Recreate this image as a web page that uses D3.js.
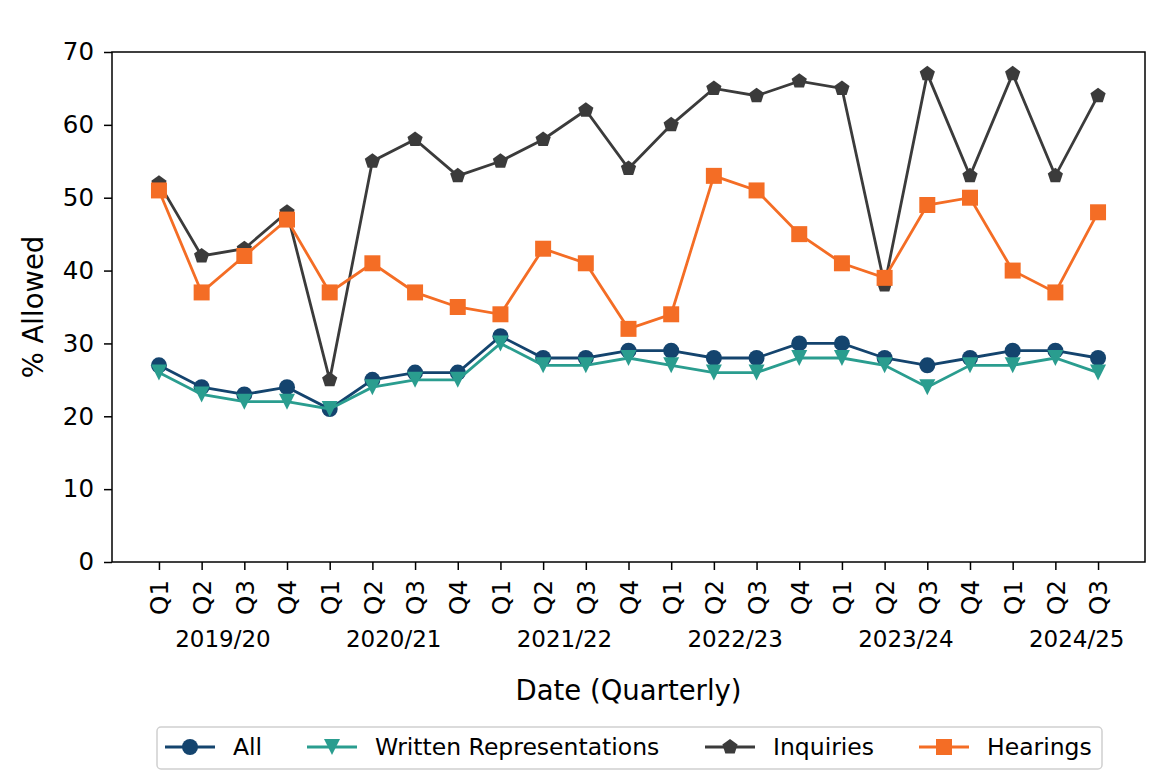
<!DOCTYPE html>
<html><head><meta charset="utf-8">
<script src="https://cdn.jsdelivr.net/npm/d3@7"></script>
<style>body{margin:0;background:#fff}svg{display:block;font-family:"DejaVu Sans",sans-serif}</style>
</head><body><svg id="c" width="1170" height="781"></svg>
<script>
const quarters = ["Q1","Q2","Q3","Q4","Q1","Q2","Q3","Q4","Q1","Q2","Q3","Q4","Q1","Q2","Q3","Q4","Q1","Q2","Q3","Q4","Q1","Q2","Q3"];
const years = ["2019/20","2020/21","2021/22","2022/23","2023/24","2024/25"];
const allVals = [27,24,23,24,21,25,26,26,31,28,28,29,29,28,28,30,30,28,27,28,29,29,28];
const writtenVals = [26,23,22,22,21,24,25,25,30,27,27,28,27,26,26,28,28,27,24,27,27,28,26];
const inquiryVals = [52,42,43,48,25,55,58,53,55,58,62,54,60,65,64,66,65,38,67,53,67,53,64];
const hearingVals = [51,37,42,47,37,41,37,35,34,43,41,32,34,53,51,45,41,39,49,50,40,37,48];
const yTicks = [0,10,20,30,40,50,60,70];

const series = [
  {name:"All", values:allVals, color:"#14446e", marker:"circle"},
  {name:"Written Representations", values:writtenVals, color:"#2a9d8f", marker:"tri"},
  {name:"Inquiries", values:inquiryVals, color:"#3b3b3b", marker:"pent"},
  {name:"Hearings", values:hearingVals, color:"#f46d25", marker:"square"}
];

const svg = d3.select("#c");
const L=112, R=1145, T=52, B=562;
const n = quarters.length;
const x = d3.scaleLinear().domain([-1.1, n-1+1.1]).range([L,R]);
const y = d3.scaleLinear().domain([0,70]).range([B,T]);
const TICK_FS = 24.5, YEAR_FS = 23, LAB_FS = 27.5, LEG_FS = 23.5;

function markerPath(type, s){
  if(type==="circle"){ return d3.symbol(d3.symbolCircle, Math.PI*s*s)(); }
  if(type==="square"){ return `M${-s},${-s}H${s}V${s}H${-s}Z`; }
  if(type==="tri"){ return `M${-s},${-s}L${s},${-s}L0,${s}Z`; }
  if(type==="pent"){
    let p=[];
    for(let i=0;i<5;i++){const a=-Math.PI/2+i*2*Math.PI/5; p.push([s*Math.cos(a), s*Math.sin(a)]);}
    return "M"+p.map(q=>q.join(",")).join("L")+"Z";
  }
}
const MS = 8;

// axes
const yAxis = d3.axisLeft(y).tickValues(yTicks).tickSize(8).tickPadding(10);
const gy = svg.append("g").attr("transform",`translate(${L},0)`).call(yAxis);
gy.select(".domain").remove();
gy.selectAll("text").attr("font-size",TICK_FS).attr("font-family","DejaVu Sans").attr("fill","#000");
gy.selectAll("line").attr("stroke","#000").attr("stroke-width",1.5);

const xAxis = d3.axisBottom(x).tickValues(d3.range(n)).tickFormat(i=>quarters[i]).tickSize(8).tickPadding(6);
const gx = svg.append("g").attr("transform",`translate(0,${B})`).call(xAxis);
gx.select(".domain").remove();
gx.selectAll("line").attr("stroke","#000").attr("stroke-width",1.5);
gx.selectAll("text").attr("font-size",TICK_FS).attr("font-family","DejaVu Sans").attr("fill","#000")
  .attr("transform","rotate(-90)").attr("text-anchor","end").attr("dy","0.36em").attr("x",-18).attr("y",0);

// year labels
years.forEach((yr,k)=>{
  svg.append("text").attr("x",x(k*4+1.5)).attr("y",647).attr("text-anchor","middle")
    .attr("font-size",YEAR_FS).text(yr);
});

svg.append("rect").attr("x",L).attr("y",T).attr("width",R-L).attr("height",B-T)
  .attr("fill","none").attr("stroke","#000").attr("stroke-width",1.5);

svg.append("text").attr("x",(L+R)/2).attr("y",700).attr("text-anchor","middle").attr("font-size",LAB_FS).text("Date (Quarterly)");
svg.append("text").attr("transform",`translate(43,${(T+B)/2}) rotate(-90)`).attr("text-anchor","middle").attr("font-size",LAB_FS).text("% Allowed");

const line = d3.line().x((d,i)=>x(i)).y(d=>y(d));
series.forEach(s=>{
  const g = svg.append("g");
  g.append("path").datum(s.values).attr("d",line).attr("fill","none").attr("stroke",s.color).attr("stroke-width",2.8);
  g.selectAll("path.m").data(s.values).enter().append("path").attr("class","m")
    .attr("d",markerPath(s.marker, MS))
    .attr("transform",(d,i)=>`translate(${x(i)},${y(d)})`).attr("fill",s.color);
});

// legend
const lg = svg.append("g");
lg.append("rect").attr("x",157).attr("y",727).attr("width",945).attr("height",42).attr("rx",4)
  .attr("fill","#fff").attr("stroke","#d0d0d0").attr("stroke-width",1.5);
const legX = [165, 307, 705, 919];
series.forEach((s,i)=>{
  const gx0 = legX[i], cy=747;
  lg.append("line").attr("x1",gx0).attr("x2",gx0+50).attr("y1",cy).attr("y2",cy).attr("stroke",s.color).attr("stroke-width",2.8);
  lg.append("path").attr("d",markerPath(s.marker, MS)).attr("transform",`translate(${gx0+25},${cy})`).attr("fill",s.color);
  lg.append("text").attr("x",gx0+68).attr("y",cy).attr("dy","0.36em").attr("font-size",LEG_FS).text(s.name);
});
</script></body></html>
